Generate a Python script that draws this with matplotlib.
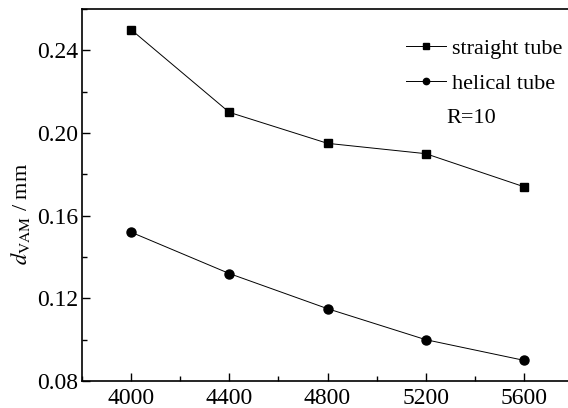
import matplotlib.pyplot as plt
from matplotlib.ticker import MultipleLocator

plt.rcParams['font.family'] = ['Liberation Serif', 'DejaVu Serif']
plt.rcParams['mathtext.fontset'] = 'stix'

speed = [4000, 4400, 4800, 5200, 5600]
straight = [0.250, 0.210, 0.195, 0.190, 0.174]
helical = [0.152, 0.132, 0.115, 0.100, 0.090]

fig = plt.figure(figsize=(5.68, 4.08), dpi=100)
ax = fig.add_axes([82 / 568, 1 - 381 / 408, (573 - 82) / 568, (381 - 9) / 408])

ax.plot(speed, straight, color='black', lw=0.7, marker='s', ms=6, label='straight tube')
ax.plot(speed, helical, color='black', lw=0.7, marker='o', ms=6.5, label='helical tube')

ax.set_xlim(3800, 5800)
ax.set_ylim(0.08, 0.26)
ax.set_xticks(speed)
ax.set_yticks([0.08, 0.12, 0.16, 0.20, 0.24])
ax.xaxis.set_minor_locator(MultipleLocator(200))
ax.yaxis.set_minor_locator(MultipleLocator(0.02))
ax.tick_params(which='both', direction='in', labelsize=17, width=1)
ax.tick_params(which='major', length=6)
ax.tick_params(which='minor', length=3.5)
ax.tick_params(axis='x', pad=5)
ax.tick_params(axis='y', pad=3)
for s in ax.spines.values():
    s.set_linewidth(1.2)

ax.set_ylabel(r'$d_{\mathrm{VAM}}$ / mm', fontsize=16)
ax.yaxis.set_label_coords(-0.102, 0.449)

leg = ax.legend(loc='upper left', bbox_to_anchor=(406 / 568, 1 - 38 / 408),
                bbox_transform=fig.transFigure, frameon=False, fontsize=16,
                handlelength=1.8, handletextpad=0.25, labelspacing=0.66,
                markerscale=0.7, borderaxespad=0, borderpad=0)
fig.text(446 / 568, 1 - 118 / 408, 'R=10', fontsize=16, va='center', ha='left')

plt.savefig('out.png', dpi=100)
